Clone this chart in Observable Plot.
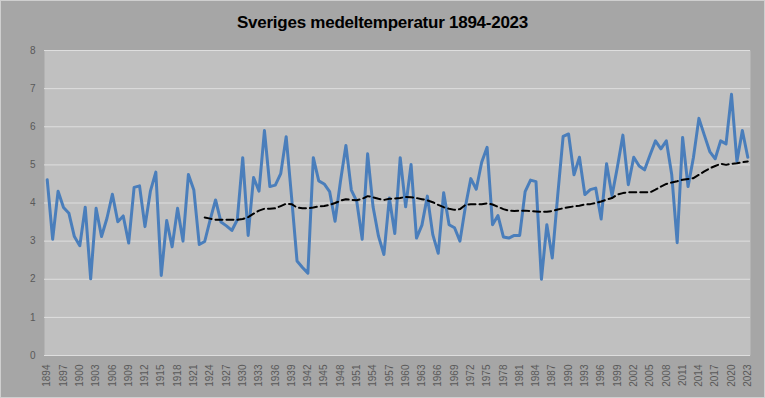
<!DOCTYPE html>
<html>
<head>
<meta charset="utf-8">
<script src="https://cdn.jsdelivr.net/npm/d3@7"></script>
<script src="https://cdn.jsdelivr.net/npm/@observablehq/plot@0.6"></script>
<style>
  html, body { margin: 0; padding: 0; background: #a6a6a6; }
  #wrap { position: relative; width: 765px; height: 398px; background: #a6a6a6; overflow: hidden; }
  #border { position: absolute; left: 0; top: 0; width: 763px; height: 396px; border: 1px solid #cfcfcf; pointer-events: none; }
  #title { display: block; }
  #chart svg { display: block; }
</style>
</head>
<body>
<div id="wrap">
  <svg id="title" width="765" height="38">
    <text x="382.5" y="27.5" text-anchor="middle" font-family="Liberation Sans, Arial, sans-serif" font-weight="bold" font-size="17" letter-spacing="-0.25" fill="#000">Sveriges medeltemperatur 1894-2023</text>
  </svg>
  <div id="chart"></div>
  <div id="border"></div>
</div>
<script>
const startYear = 1894;
const temps = [
  4.61, 3.05, 4.31, 3.88, 3.73, 3.12, 2.88, 3.89, 2.01, 3.86,
  3.12, 3.60, 4.23, 3.51, 3.66, 2.95, 4.41, 4.45, 3.38, 4.31,
  4.81, 2.10, 3.54, 2.85, 3.86, 3.00, 4.75, 4.34, 2.91, 2.99,
  3.56, 4.08, 3.50, 3.40, 3.28, 3.56, 5.19, 3.15, 4.67, 4.31,
  5.90, 4.43, 4.47, 4.77, 5.74, 4.15, 2.48, 2.31, 2.16, 5.19,
  4.58, 4.50, 4.30, 3.52, 4.57, 5.51, 4.34, 4.04, 3.05, 5.29,
  3.90, 3.13, 2.65, 4.13, 3.20, 5.19, 3.90, 5.01, 3.08, 3.42,
  4.18, 3.17, 2.68, 4.27, 3.43, 3.35, 3.00, 3.90, 4.64, 4.36,
  5.07, 5.46, 3.43, 3.67, 3.11, 3.08, 3.15, 3.15, 4.30, 4.60,
  4.56, 2.00, 3.43, 2.56, 4.20, 5.75, 5.81, 4.74, 5.20, 4.22,
  4.35, 4.39, 3.58, 5.03, 4.19, 4.95, 5.78, 4.48, 5.20, 4.97,
  4.87, 5.26, 5.63, 5.42, 5.63, 4.74, 2.96, 5.72, 4.43, 5.20,
  6.22, 5.78, 5.35, 5.16, 5.63, 5.55, 6.85, 5.09, 5.90, 5.20
];
const avgStartYear = 1923;
const movingAvg = [
  3.62, 3.59, 3.56, 3.56, 3.56, 3.56, 3.56, 3.58, 3.63, 3.72,
  3.80, 3.85, 3.85, 3.86, 3.92, 3.98, 3.97, 3.88, 3.86, 3.86,
  3.88, 3.91, 3.92, 3.95, 4.00, 4.06, 4.10, 4.08, 4.07, 4.11,
  4.18, 4.15, 4.11, 4.08, 4.11, 4.12, 4.13, 4.16, 4.15, 4.13,
  4.10, 4.07, 4.02, 3.95, 3.89, 3.85, 3.82, 3.84, 3.95, 3.97,
  3.97, 3.97, 3.99, 3.96, 3.90, 3.84, 3.80, 3.79, 3.80, 3.80,
  3.79, 3.78, 3.77, 3.77, 3.79, 3.83, 3.86, 3.89, 3.91, 3.93,
  3.96, 3.97, 4.00, 4.04, 4.09, 4.13, 4.22, 4.26, 4.28, 4.28,
  4.28, 4.28, 4.28, 4.35, 4.43, 4.50, 4.54, 4.57, 4.61, 4.63,
  4.65, 4.74, 4.83, 4.91, 4.97, 5.03, 5.00, 5.03, 5.04, 5.07,
  5.09
];
const xTickYears = [1894, 1897, 1900, 1903, 1906, 1909, 1912, 1915, 1918, 1921, 1924, 1927, 1930, 1933, 1936, 1939, 1942, 1945, 1948, 1951, 1954, 1957, 1960, 1963, 1966, 1969, 1972, 1975, 1978, 1981, 1984, 1987, 1990, 1993, 1996, 1999, 2002, 2005, 2008, 2011, 2014, 2017, 2020, 2023];
const yTicks = [0, 1, 2, 3, 4, 5, 6, 7, 8];

const tempData = temps.map((t, i) => ({year: startYear + i, temp: t}));
const avgData = movingAvg.map((t, i) => ({year: avgStartYear + i, temp: t}));

const chart = Plot.plot({
  width: 765,
  height: 360,
  marginLeft: 44,
  marginRight: 15,
  marginTop: 12,
  marginBottom: 43,
  style: {background: "transparent", fontFamily: "Liberation Sans, Arial, sans-serif", fontSize: "10px", color: "#595959", overflow: "visible"},
  x: {domain: [startYear - 0.5, 2023.5]},
  y: {domain: [0, 8]},
  marks: [
    Plot.frame({fill: "#c0c0c0", stroke: null}),
    Plot.gridY(yTicks, {stroke: "#dedede", strokeOpacity: 1, strokeWidth: 1}),
    Plot.axisY(yTicks, {tickSize: 0, tickPadding: 9, label: null, tickFormat: d => String(d), fill: "#595959"}),
    Plot.axisX(xTickYears, {tickSize: 0, tickRotate: -90, tickPadding: 9, label: null, tickFormat: d => String(d), fill: "#595959"}),
    Plot.line(tempData, {x: "year", y: "temp", stroke: "#4a7ebb", strokeWidth: 3, strokeLinejoin: "round"}),
    Plot.line(avgData, {x: "year", y: "temp", stroke: "#000", strokeWidth: 2, strokeDasharray: "7,4"})
  ]
});
document.getElementById("chart").appendChild(chart);
</script>
</body>
</html>
